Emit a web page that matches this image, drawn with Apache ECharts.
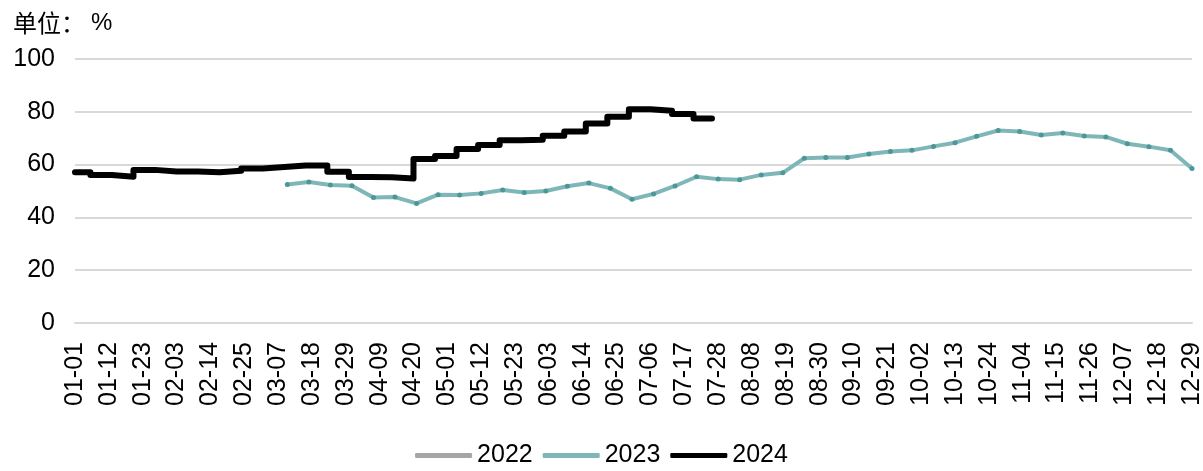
<!DOCTYPE html>
<html>
<head>
<meta charset="utf-8">
<script src="https://cdn.jsdelivr.net/npm/echarts@6/dist/echarts.min.js"></script>
<style>
  html, body { margin: 0; padding: 0; background: #fff; }
  #main { width: 1203px; height: 471px; }
</style>
</head>
<body>
<div id="main"></div>
<script>
// x axis: calendar days 01-01 .. 12-29 (leap year calendar)
var days = [];
for (var d = new Date(Date.UTC(2024, 0, 1)); d <= new Date(Date.UTC(2024, 11, 29)); d.setUTCDate(d.getUTCDate() + 1)) {
    days.push(String(d.getUTCMonth() + 1).padStart(2, '0') + '-' + String(d.getUTCDate()).padStart(2, '0'));
}

var yTicks = [0, 20, 40, 60, 80, 100];

// 2022: shown in legend only
var dates22 = [];
var values22 = [];

// 2023: weekly
var dates23 = ['03-10', '03-17', '03-24', '03-31', '04-07', '04-14', '04-21', '04-28', '05-05', '05-12',
               '05-19', '05-26', '06-02', '06-09', '06-16', '06-23', '06-30', '07-07', '07-14', '07-21',
               '07-28', '08-04', '08-11', '08-18', '08-25', '09-01', '09-08', '09-15', '09-22', '09-29',
               '10-06', '10-13', '10-20', '10-27', '11-03', '11-10', '11-17', '11-24', '12-01', '12-08',
               '12-15', '12-22', '12-29'];
var values23 = [52.5, 53.4, 52.3, 52.0, 47.5, 47.7, 45.3, 48.6, 48.5, 49.1,
                50.4, 49.4, 50.0, 51.8, 53.0, 51.0, 46.9, 48.9, 51.9, 55.4,
                54.5, 54.3, 56.1, 56.9, 62.4, 62.7, 62.7, 64.0, 65.0, 65.4,
                66.9, 68.3, 70.7, 72.9, 72.5, 71.2, 72.0, 70.8, 70.5, 67.9,
                66.8, 65.4, 58.5];

// 2024: weekly readings held until the next one
var dates24 = ['01-01', '01-06', '01-13', '01-20', '01-27', '02-03', '02-10', '02-17', '02-24', '03-02',
               '03-09', '03-16', '03-23', '03-30', '04-06', '04-13', '04-20', '04-27', '05-04', '05-11',
               '05-18', '05-25', '06-01', '06-08', '06-15', '06-22', '06-29', '07-06', '07-13', '07-20',
               '07-26'];
var values24 = [57.1, 56.1, 55.4, 58.0, 57.4, 57.4, 57.1, 57.7, 58.5, 59.1,
                59.7, 59.7, 57.3, 55.3, 55.2, 54.7, 62.1, 63.3, 65.9, 67.4,
                69.2, 69.4, 70.9, 72.5, 75.6, 78.1, 81.0, 80.4, 79.2, 77.5,
                77.5];

function pairs(xs, ys) {
    return xs.map(function (x, i) { return [x, ys[i]]; });
}

var FONT = '"Liberation Sans", Arial, "Noto Sans CJK SC", sans-serif';

var option = {
    animation: false,
    textStyle: { fontFamily: FONT },
    title: {
        text: '{cn|单位：}{pc|%}',
        left: 8,
        top: 6,
        textStyle: {
            fontWeight: 'normal',
            rich: {
                cn: { fontSize: 24, fontWeight: 'normal', color: '#000', fontFamily: '"Noto Sans CJK SC", sans-serif' },
                pc: { fontSize: 24, fontWeight: 'normal', color: '#000', fontFamily: FONT, padding: [0, 0, 0, 6] }
            }
        }
    },
    legend: {
        bottom: -2,
        left: 'center',
        itemWidth: 57,
        itemHeight: 5,
        itemGap: 10,
        textStyle: { fontSize: 25, color: '#000', fontFamily: FONT },
        data: [
            { name: '2022', icon: 'roundRect', itemStyle: { color: '#a6a6a6' } },
            { name: '2023', icon: 'roundRect', itemStyle: { color: '#7fb7b9' } },
            { name: '2024', icon: 'roundRect', itemStyle: { color: '#000000' } }
        ]
    },
    grid: {
        left: 75,
        right: 11,
        top: 59,
        bottom: 148,
        containLabel: false,
        outerBoundsMode: 'none'
    },
    xAxis: {
        type: 'category',
        data: days,
        boundaryGap: false,
        axisLine: { show: true, lineStyle: { color: '#d9d9d9', width: 2 } },
        axisTick: { show: false },
        axisLabel: {
            interval: 10,
            rotate: 90,
            margin: 19,
            fontSize: 25,
            color: '#000',
            fontFamily: FONT
        },
        splitLine: { show: false }
    },
    yAxis: {
        type: 'value',
        min: yTicks[0],
        max: yTicks[yTicks.length - 1],
        interval: 20,
        axisLine: { show: false },
        axisTick: { show: false },
        axisLabel: { fontSize: 25, color: '#000', margin: 20, fontFamily: FONT },
        splitLine: { lineStyle: { color: '#d9d9d9', width: 2 } }
    },
    series: [
        {
            name: '2022',
            type: 'line',
            data: pairs(dates22, values22),
            lineStyle: { color: '#a6a6a6', width: 4 },
            itemStyle: { color: '#a6a6a6' }
        },
        {
            name: '2023',
            type: 'line',
            data: pairs(dates23, values23),
            symbol: 'circle',
            symbolSize: 5,
            showSymbol: true,
            showAllSymbol: true,
            lineStyle: { color: '#7fb7b9', width: 4 },
            itemStyle: { color: '#4b979a', borderWidth: 0 },
            z: 2
        },
        {
            name: '2024',
            type: 'line',
            step: 'end',
            data: pairs(dates24, values24),
            showSymbol: false,
            symbol: 'none',
            lineStyle: { color: '#000', width: 6, join: 'round', cap: 'round' },
            itemStyle: { color: '#000' },
            z: 3
        }
    ]
};

var chart = echarts.init(document.getElementById('main'));
chart.setOption(option);
</script>
</body>
</html>
